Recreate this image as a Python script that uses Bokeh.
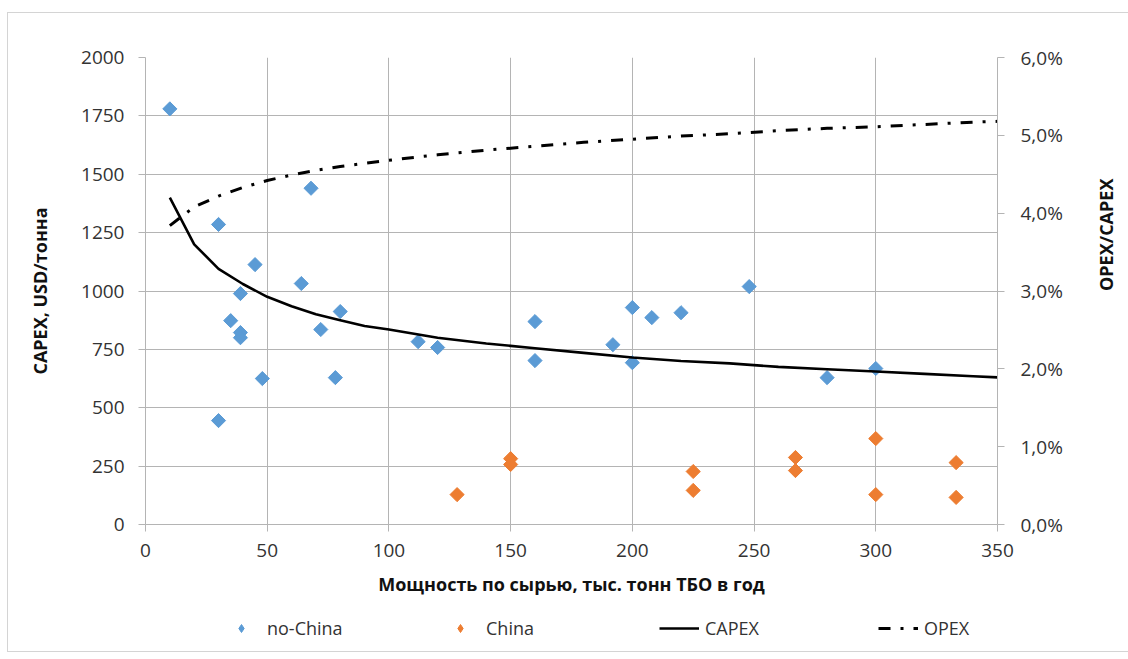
import numpy as np
from bokeh.plotting import figure
from bokeh.layouts import column
from bokeh.models import Range1d, LinearAxis, FixedTicker, Legend, LegendItem
from bokeh.embed import file_html
from bokeh.resources import INLINE

# ---- data ----
nochina_x = [10, 30, 45, 68, 64, 39, 35, 39, 39, 48, 30, 72, 80, 78, 112, 120,
             160, 160, 192, 200, 200, 208, 220, 248, 280, 300]
nochina_y = [1780, 1285, 1113, 1440, 1032, 989, 873, 822, 800, 625, 445, 835, 912,
             629, 783, 758, 869, 702, 770, 929, 693, 886, 907, 1019, 629, 668]
china_x = [128, 150, 150, 225, 225, 267, 267, 300, 300, 333, 333]
china_y = [128, 282, 257, 227, 146, 287, 231, 368, 128, 265, 116]

curve_x = [10, 20, 30, 40, 50, 60, 70, 80, 90, 100, 120, 140, 160, 180, 200,
           220, 240, 260, 280, 300, 320, 340, 350]
capex_y = [1400, 1200, 1095, 1030, 975, 935, 900, 875, 850, 835, 800, 775, 755,
           735, 715, 700, 690, 675, 665, 655, 645, 635, 630]
opex_pct = [3.84, 4.08, 4.22, 4.33, 4.42, 4.49, 4.55, 4.60, 4.64, 4.68, 4.75, 4.81,
            4.86, 4.91, 4.95, 4.99, 5.02, 5.06, 5.09, 5.11, 5.14, 5.17, 5.18]

x_ticks = [0, 50, 100, 150, 200, 250, 300, 350]
y_ticks = [0, 250, 500, 750, 1000, 1250, 1500, 1750, 2000]
y2_ticks = [0, 1, 2, 3, 4, 5, 6]
y2_labels = {t: f"{t},0%" for t in y2_ticks}
legend_labels = ["no-China", "China", "CAPEX", "OPEX"]

FONT = "Open Sans"
GRID = "#b4b4b4"
TXT = "#333333"
BLUE = "#5B9BD5"
ORANGE = "#ED7D31"
TOTAL_W = 137 + 852 + 130

p = figure(frame_width=852, frame_height=467,
           min_border_left=137, min_border_right=130,
           min_border_top=44, min_border_bottom=84,
           x_range=Range1d(0, 350), y_range=Range1d(0, 2000),
           output_backend="svg", toolbar_location=None)
p.outline_line_color = None
p.extra_y_ranges = {"opex": Range1d(0, 6)}

# axes styling
for ax in (p.xaxis[0], p.yaxis[0]):
    ax.axis_line_color = GRID
    ax.major_tick_line_color = GRID
    ax.major_tick_out = 7
    ax.major_tick_in = 0
    ax.minor_tick_line_color = None
    ax.major_label_text_font = FONT
    ax.major_label_text_font_size = "19px"
    ax.major_label_text_color = TXT
    ax.axis_label_text_font = FONT
    ax.axis_label_text_font_size = "18px"
    ax.axis_label_text_font_style = "bold"
    ax.axis_label_text_color = "#111111"

p.xaxis.ticker = FixedTicker(ticks=x_ticks)
p.yaxis.ticker = FixedTicker(ticks=y_ticks)
p.xaxis.axis_label = "Мощность по сырью, тыс. тонн ТБО в год"
p.yaxis.axis_label = "CAPEX, USD/тонна"
p.xaxis.major_label_standoff = 12
p.yaxis.major_label_standoff = 14
p.xaxis.axis_label_standoff = 12
p.yaxis.axis_label_standoff = 26

ax2 = LinearAxis(y_range_name="opex", ticker=FixedTicker(ticks=y2_ticks),
                 major_label_overrides=y2_labels)
ax2.axis_line_color = GRID
ax2.major_tick_line_color = GRID
ax2.major_tick_out = 7
ax2.major_tick_in = 0
ax2.minor_tick_line_color = None
ax2.major_label_text_font = FONT
ax2.major_label_text_font_size = "19px"
ax2.major_label_text_color = TXT
ax2.major_label_standoff = 16
ax2.axis_label = "OPEX/CAPEX"
ax2.axis_label_text_font = FONT
ax2.axis_label_text_font_size = "18px"
ax2.axis_label_text_font_style = "bold"
ax2.axis_label_text_color = "#111111"
ax2.axis_label_standoff = 40
if "axis_label_orientation" in ax2.properties():
    ax2.axis_label_orientation = np.pi / 2
p.add_layout(ax2, "right")

p.xgrid.ticker = FixedTicker(ticks=x_ticks)
p.ygrid.ticker = FixedTicker(ticks=y_ticks)
p.xgrid.grid_line_color = GRID
p.ygrid.grid_line_color = GRID

# glyphs
p.scatter(nochina_x, nochina_y, marker="square", angle=np.pi / 4, size=10,
          fill_color=BLUE, line_color=BLUE)
p.scatter(china_x, china_y, marker="square", angle=np.pi / 4, size=10,
          fill_color=ORANGE, line_color=ORANGE)
p.line(curve_x, capex_y, line_color="black", line_width=2.6)
p.line(curve_x, opex_pct, y_range_name="opex", line_color="black",
       line_width=3, line_dash="12 10 3 10")

# legend strip below the chart: proxy renderers (out of view) carry the styles
lf = figure(width=TOTAL_W, height=43, min_border=0,
            x_range=Range1d(0, 1), y_range=Range1d(0, 1),
            x_axis_type=None, y_axis_type=None,
            output_backend="svg", toolbar_location=None)
lf.outline_line_color = None
lf.grid.visible = False
hid = [-5]
l_nc = lf.scatter(hid, hid, marker="diamond", size=14,
                  fill_color=BLUE, line_color=BLUE)
l_c = lf.scatter(hid, hid, marker="diamond", size=14,
                 fill_color=ORANGE, line_color=ORANGE)
l_capex = lf.line(hid, hid, line_color="black", line_width=2.6)
l_opex = lf.line(hid, hid, line_color="black", line_width=3, line_dash="12 10 3 10")
legend = Legend(items=[LegendItem(label=legend_labels[0], renderers=[l_nc]),
                       LegendItem(label=legend_labels[1], renderers=[l_c]),
                       LegendItem(label=legend_labels[2], renderers=[l_capex]),
                       LegendItem(label=legend_labels[3], renderers=[l_opex])],
                location=(76, 11), orientation="horizontal",
                glyph_width=40, glyph_height=20, label_standoff=6,
                label_width=165, spacing=8,
                padding=0, margin=0, border_line_color=None,
                background_fill_alpha=0,
                label_text_font=FONT, label_text_font_size="18px",
                label_text_color=TXT)
lf.add_layout(legend, "center")

layout = column(p, lf, spacing=0,
                styles={"border": "1px solid #d4d4d4", "border-right": "none",
                        "margin-left": "7px", "margin-top": "12px"})

open("out.html", "w").write(file_html(layout, INLINE))
